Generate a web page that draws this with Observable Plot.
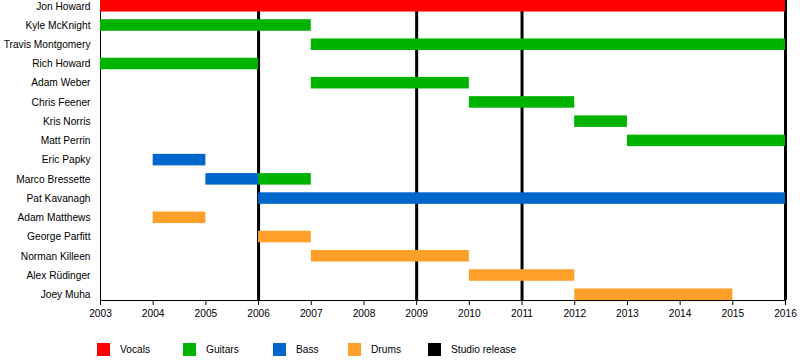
<!DOCTYPE html>
<html>
<head>
<meta charset="utf-8">
<script src="https://cdn.jsdelivr.net/npm/d3@7"></script>
<script src="https://cdn.jsdelivr.net/npm/@observablehq/plot@0.6"></script>
<style>
  body { margin: 0; background: #fff; font-family: "Liberation Sans", Arial, sans-serif; }
  #chart { position: relative; width: 800px; height: 360px; }
  #legend { position: absolute; left: 0; top: 343px; width: 800px; height: 14px; font-size: 10.2px; }
  .item { position: absolute; top: 0; height: 13px; display: flex; align-items: center; }
  .sw { width: 13px; height: 13px; margin-right: 10px; }
</style>
</head>
<body>
<div id="chart"></div>
<script>
const members = ["Jon Howard","Kyle McKnight","Travis Montgomery","Rich Howard","Adam Weber","Chris Feener","Kris Norris","Matt Perrin","Eric Papky","Marco Bressette","Pat Kavanagh","Adam Matthews","George Parfitt","Norman Killeen","Alex Rüdinger","Joey Muha"];
const roles = ["Vocals","Guitars","Bass","Drums","Studio release"];
const roleColors = ["#ff0000","#00b300","#0066cc","#ffa02a","#000000"];

const barMember = ["Jon Howard","Kyle McKnight","Travis Montgomery","Rich Howard","Adam Weber","Chris Feener","Kris Norris","Matt Perrin","Eric Papky","Marco Bressette","Marco Bressette","Pat Kavanagh","Adam Matthews","George Parfitt","Norman Killeen","Alex Rüdinger","Joey Muha"];
const barRole = ["Vocals","Guitars","Guitars","Guitars","Guitars","Guitars","Guitars","Guitars","Bass","Bass","Guitars","Bass","Drums","Drums","Drums","Drums","Drums"];
const barStart = [2003,2003,2007,2003,2007,2010,2012,2013,2004,2005,2006,2006,2004,2006,2007,2010,2012];
const barEnd = [2016,2007,2016,2006,2010,2012,2013,2016,2005,2006,2007,2016,2005,2007,2010,2012,2015];

const releases = [2006, 2009, 2011, 2016];
const yearTicks = d3.range(2003, 2017);

const bars = barMember.map((m, i) => ({member: m, role: barRole[i], start: barStart[i], end: barEnd[i]}));
const colorOf = r => roleColors[roles.indexOf(r)];

const plot = Plot.plot({
  width: 800,
  height: 330,
  marginTop: 0,
  marginBottom: 30,
  marginLeft: 100,
  marginRight: 15,
  style: {fontFamily: "Liberation Sans, Arial, sans-serif", fontSize: "10.2px", color: "#000", background: "#fff"},
  x: {domain: [2003, 2016], ticks: yearTicks, tickFormat: d => String(d), label: null},
  y: {domain: members, paddingInner: 0.4, paddingOuter: 0, align: 0, round: false, label: null},
  marks: [
    Plot.ruleX([2003], {stroke: "#000", strokeWidth: 1}),
    Plot.ruleX(releases, {stroke: "#000", strokeWidth: 3}),
    Plot.barX(bars, {x1: "start", x2: "end", y: "member", fill: d => colorOf(d.role)}),
    Plot.frame({anchor: "bottom", stroke: "#000"}),
    Plot.axisX({ticks: yearTicks, tickFormat: d => String(d), tickSize: 5, tickPadding: 4, label: null}),
    Plot.axisY({tickSize: 0, tickPadding: 10, label: null})
  ]
});
const chart = document.getElementById("chart");
chart.appendChild(plot);

const legend = document.createElement("div");
legend.id = "legend";
const lefts = [97, 183, 273, 348, 428];
roles.forEach((r, i) => {
  const it = document.createElement("div");
  it.className = "item";
  it.style.left = lefts[i] + "px";
  const sw = document.createElement("span");
  sw.className = "sw";
  sw.style.background = roleColors[i];
  const t = document.createElement("span");
  t.textContent = r;
  it.appendChild(sw); it.appendChild(t);
  legend.appendChild(it);
});
chart.appendChild(legend);
</script>
</body>
</html>
